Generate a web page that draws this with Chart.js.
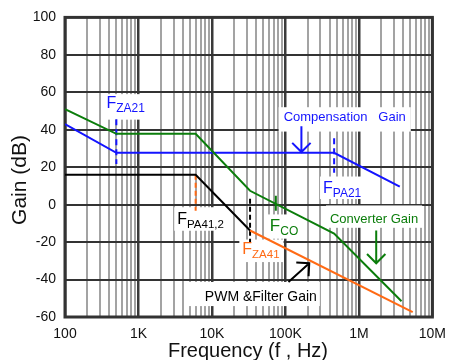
<!DOCTYPE html>
<html lang="en">
<head>
<meta charset="UTF-8">
<title>Loop Gain Bode Plot</title>
<script src="https://cdn.jsdelivr.net/npm/chart.js"></script>
<style>
  html, body { margin: 0; padding: 0; background: #fff; }
</style>
</head>
<body>
<canvas id="bode" width="455" height="360"></canvas>
<script>
// axis ticks
const xDecades = [100, 1000, 10000, 100000, 1000000, 10000000];
const xDecadeLabels = ['100', '1K', '10K', '100K', '1M', '10M'];
const yTicks = [-60, -40, -20, 0, 20, 40, 60, 80, 100];

// Compensation gain (blue)
const compFreq = [100, 500, 460000, 3600000];
const compGain = [43, 27.7, 27.7, 9.6];

// Converter gain (green)
const convFreq = [100, 500, 6000, 33000, 460000, 3800000];
const convGain = [51, 37.8, 37.8, 7.4, -15.4, -51.6];

// PWM & filter gain (black)
const pwmFreq = [100, 6000, 33000];
const pwmGain = [16, 16, -13.8];

// continuation after F_ZA41 (orange)
const za41Freq = [33000, 5400000];
const za41Gain = [-13.8, -57.4];

// pole / zero markers: frequency and the gain span of the short vertical mark
const markerFreq = [500, 460000, 33000, 6000, 74000];
const markerTop = [45.6, 35.5, 3.2, 16, 4.8];
const markerBottom = [21.7, 17, -20.1, -3.2, -3.2];

const BLUE = '#1414ff';
const GREEN = '#0b7d0b';
const ORANGE = '#ff6a14';
const BLACK = '#000';
const FONT = '"Liberation Sans", Arial, sans-serif';

const pts = (fs, gs) => fs.map((f, i) => ({ x: f, y: gs[i] }));

// all grid frequencies 1..9 per decade
const xGrid = [];
xDecades.slice(0, -1).forEach(d => [1,2,3,4,5,6,7,8,9].forEach(m => xGrid.push(d * m)));
xGrid.push(xDecades[xDecades.length - 1]);
const isDecade = v => xDecades.some(d => Math.abs(d - v) < d * 1e-6);

const markerStyle = [
  { color: BLUE, dash: [6, 4] },
  { color: BLUE, dash: [6, 4] },
  { color: BLACK, dash: [5, 3] },
  { color: ORANGE, dash: [5, 3] },
  { color: GREEN, dash: [] }
];

const datasets = [
  { data: pts(convFreq, convGain), borderColor: GREEN },
  { data: pts(compFreq, compGain), borderColor: BLUE },
  { data: pts(pwmFreq, pwmGain), borderColor: BLACK },
  { data: pts(za41Freq, za41Gain), borderColor: ORANGE }
].map(d => Object.assign(d, { showLine: true, borderWidth: 2, pointRadius: 0, fill: false }));

markerFreq.forEach((f, i) => {
  datasets.push({
    data: [{ x: f, y: markerTop[i] }, { x: f, y: markerBottom[i] }],
    showLine: true, borderWidth: 2, pointRadius: 0,
    borderColor: markerStyle[i].color, borderDash: markerStyle[i].dash
  });
});

// text notes anchored at (freq, gain) = left end of baseline; pad = [l, t, r, b]
const notes = [
  { text: 'F', sub: 'ZA21', f: 366, g: 51.8, color: BLUE, size: 16, subSize: 12, pad: [2, 2, 5, 8] },
  { text: 'Compensation   Gain', f: 94600, g: 44.9, color: BLUE, size: 13, pad: [5, 4, 5, 11] },
  { text: 'F', sub: 'PA21', f: 325000, g: 6.2, color: BLUE, size: 16, subSize: 12, pad: [3, 5, 4, 2] },
  { text: 'Converter Gain', f: 404000, g: -9.7, color: GREEN, size: 13, pad: [4, 8, 4, 5] },
  { text: 'F', sub: 'PA41,2', f: 3370, g: -10.2, color: BLACK, size: 16, subSize: 11.5, pad: [3, 5, 5, 3] },
  { text: 'F', sub: 'CO', f: 61400, g: -13.9, color: GREEN, size: 17, subSize: 12, pad: [3, 4, 3, 4] },
  { text: 'F', sub: 'ZA41', f: 25900, g: -26.4, color: ORANGE, size: 16, subSize: 11.5, pad: [3, 3, 4, 4] },
  { text: 'PWM &Filter Gain', f: 8000, g: -51.5, color: BLACK, size: 14, pad: [19, 9, 3, 5] }
];

const arrows = [
  { from: [165000, 41.9], to: [165000, 28.1], color: BLUE },
  { from: [1720000, -13.8], to: [1720000, -31.3], color: GREEN },
  { from: [110000, -41.3], to: [211000, -31.3], color: BLACK }
];

function noteBox(ctx, n, x, y) {
  const px = x.getPixelForValue(n.f), py = y.getPixelForValue(n.g);
  ctx.font = n.size + 'px ' + FONT;
  let w = ctx.measureText(n.text).width;
  let bottom = py;
  if (n.sub) {
    ctx.font = n.subSize + 'px ' + FONT;
    w += ctx.measureText(n.sub).width;
    bottom = py + 4;
  }
  const top = py - n.size * 0.72;
  return { px, py, x: px - n.pad[0], y: top - n.pad[1], w: w + n.pad[0] + n.pad[2], h: bottom - top + n.pad[1] + n.pad[3] };
}

const overlay = {
  id: 'overlay',
  beforeDatasetsDraw(chart) {
    const { ctx, chartArea: a, scales: { x, y } } = chart;
    ctx.save();
    ctx.fillStyle = '#fff';
    notes.forEach(n => {
      const b = noteBox(ctx, n, x, y);
      ctx.fillRect(b.x, b.y, b.w, b.h);
    });
    // plot frame
    ctx.strokeStyle = '#333';
    ctx.lineWidth = 3;
    ctx.strokeRect(a.left, a.top, a.right - a.left, a.bottom - a.top);
    ctx.restore();
  },
  afterDatasetsDraw(chart) {
    const { ctx, chartArea: a, scales: { x, y } } = chart;
    ctx.save();
    ctx.textBaseline = 'alphabetic';
    ctx.textAlign = 'left';
    notes.forEach(n => {
      const b = noteBox(ctx, n, x, y);
      ctx.fillStyle = n.color;
      ctx.font = n.size + 'px ' + FONT;
      ctx.fillText(n.text, b.px, b.py);
      if (n.sub) {
        const w = ctx.measureText(n.text).width;
        ctx.font = n.subSize + 'px ' + FONT;
        ctx.fillText(n.sub, b.px + w, b.py + 4);
      }
    });

    arrows.forEach(ar => {
      const x0 = x.getPixelForValue(ar.from[0]), y0 = y.getPixelForValue(ar.from[1]);
      const x1 = x.getPixelForValue(ar.to[0]), y1 = y.getPixelForValue(ar.to[1]);
      const ang = Math.atan2(y1 - y0, x1 - x0);
      const len = 13;
      ctx.strokeStyle = ar.color;
      ctx.lineWidth = 2;
      ctx.beginPath();
      ctx.moveTo(x0, y0);
      ctx.lineTo(x1, y1);
      ctx.moveTo(x1 - len * Math.cos(ang - Math.PI / 4), y1 - len * Math.sin(ang - Math.PI / 4));
      ctx.lineTo(x1, y1);
      ctx.lineTo(x1 - len * Math.cos(ang + Math.PI / 4), y1 - len * Math.sin(ang + Math.PI / 4));
      ctx.stroke();
    });

    // axis titles
    ctx.fillStyle = '#111';
    ctx.textAlign = 'center';
    ctx.font = '20px ' + FONT;
    ctx.fillText('Frequency (f , Hz)', 248, 357);
    ctx.save();
    ctx.translate(26, 180);
    ctx.rotate(-Math.PI / 2);
    ctx.font = '21px ' + FONT;
    ctx.fillText('Gain (dB)', 0, 0);
    ctx.restore();
    ctx.restore();
  }
};

new Chart(document.getElementById('bode'), {
  type: 'scatter',
  data: { datasets },
  plugins: [overlay],
  options: {
    responsive: false,
    animation: false,
    layout: { padding: { top: 15, right: 15, left: 0, bottom: 0 } },
    plugins: { legend: { display: false }, tooltip: { enabled: false } },
    scales: {
      x: {
        type: 'logarithmic',
        min: 100,
        max: 10000000,
        afterFit: s => { s.height = 43; },
        afterBuildTicks: s => { s.ticks = xGrid.map(v => ({ value: v })); },
        border: { display: false },
        grid: {
          drawTicks: false,
          color: c => isDecade(c.tick.value) ? '#3a3a3a' : '#a3a3a3',
          lineWidth: c => isDecade(c.tick.value) ? 2.5 : 2
        },
        ticks: {
          autoSkip: false,
          maxRotation: 0,
          padding: 9,
          color: '#111',
          font: { family: FONT, size: 14 },
          callback: v => {
            const i = xDecades.findIndex(d => Math.abs(d - v) < d * 1e-6);
            return i >= 0 ? xDecadeLabels[i] : '';
          }
        }
      },
      y: {
        min: -60,
        max: 100,
        afterFit: s => { s.width = 65; },
        afterBuildTicks: s => { s.ticks = yTicks.map(v => ({ value: v })); },
        border: { display: false },
        grid: { drawTicks: false, color: '#333', lineWidth: 2 },
        ticks: {
          padding: 9,
          color: '#111',
          font: { family: FONT, size: 14 }
        }
      }
    }
  }
});
</script>
</body>
</html>
